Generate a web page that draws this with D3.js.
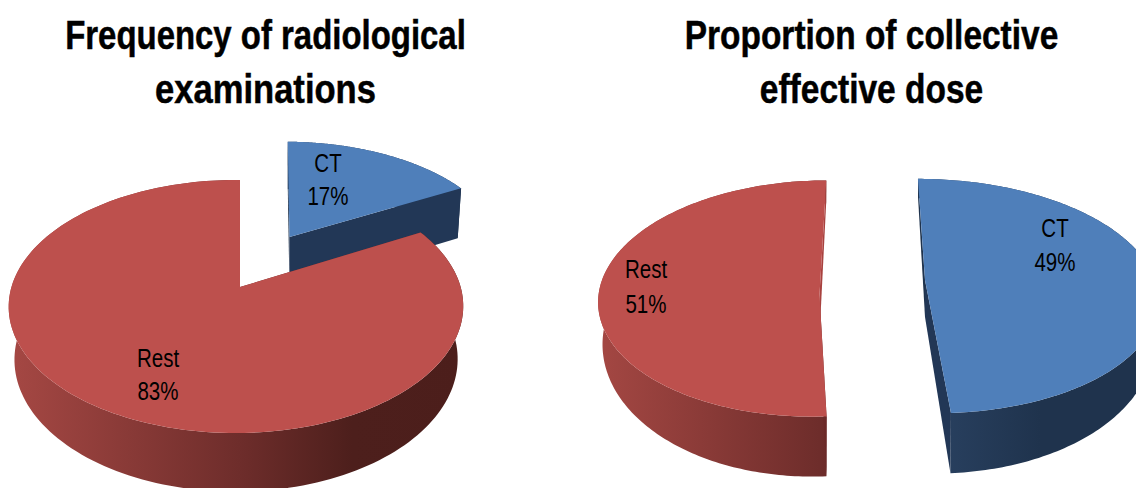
<!DOCTYPE html>
<html>
<head>
<meta charset="utf-8">
<script src="https://cdn.jsdelivr.net/npm/d3@7/dist/d3.min.js"></script>
<style>
html,body{margin:0;padding:0;background:#fff;overflow:hidden}
svg{display:block}
text{font-family:"Liberation Sans",Arial,sans-serif;fill:#000}
</style>
</head>
<body>
<svg id="chart" width="1136" height="488"></svg>
<script>
// Chart values
const categories = ["CT", "Rest"];
const frequencyValues = [17, 83];
const doseValues = [49, 51];
const frequencyTitle = ["Frequency of radiological", "examinations"];
const doseTitle = ["Proportion of collective", "effective dose"];

// Slice colours
const topColors = {CT: "#4f7fba", Rest: "#bd504d"};
const wallStops = {
  CT: ["#3a5a85", "#2a4262", "#1f334d", "#1f334d"],
  Rest: ["#a44743", "#6e2d2b", "#4d1f1c", "#4c1e1b"]
};
const radialColors = {
  CT: ["#1f334d", "#223756"],
  Rest: ["#6b2928", "#a8423f"]
};

// Perspective set-up of each exploded slice. ax/ay: hub of the slice;
// rx/ry: disc radii; p/r: foreshortening along depth and width; sh: shear;
// kx/ky/d: how the lower face relates to the upper one.
const panels = [
  {
    values: frequencyValues,
    title: frequencyTitle,
    titleX: 265.5,
    titleSqueeze: [0.823, 0.864],
    geom: {
      CT: {ax: 289.5, ay: 237, rx: 214.5, ry: 110, p: 0.154, r: 0.0176, sh: -2, kx: 0.98, ky: 1.046, d: 52},
      Rest: {ax: 240, ay: 287, rx: 224.5, ry: 123.5, p: 0.154, r: 0.0176, sh: 0, kx: 0.975, ky: 1.046, d: 52}
    },
    labels: {CT: [328, 172, 205], Rest: [158, 367, 400]}
  },
  {
    values: doseValues,
    title: doseTitle,
    titleX: 871.5,
    titleSqueeze: [0.836, 0.837],
    geom: {
      CT: {ax: 925, ay: 280, rx: 230, ry: 115, p: 0.137, r: 0, sh: -8, kx: 0.98, ky: 1.175, d: 37},
      Rest: {ax: 819.5, ay: 295, rx: 221, ry: 118, p: 0.03, r: 0, sh: 7, kx: 0.98, ky: 1.156, d: 41}
    },
    labels: {CT: [1055, 237, 271], Rest: [646, 278, 313]}
  }
];

const svg = d3.select("#chart");
const defs = svg.append("defs");
const pie = d3.pie().sort(null).startAngle(0).endAngle(2 * Math.PI);
const line = d3.line();

// Upper-face position of a point at fraction f of the radius, at pie angle a
function upper(g, a, f) {
  const X = f * Math.sin(a), Y = f * Math.cos(a);
  const w = 1 + g.p * Y + g.r * X;
  return [g.ax + (g.rx * X + g.sh * Y) / w, g.ay - g.ry * Y / w];
}
// Same point on the lower face
function lower(g, a, f) {
  const [x, y] = upper(g, a, f);
  return [g.ax + g.kx * (x - g.ax), g.ay + g.ky * (y - g.ay) + g.d];
}
function rim(fn, g, a0, a1) {
  return d3.range(0, 181).map(i => fn(g, a0 + (a1 - a0) * i / 180, 1));
}

// Narrow a text element to a fraction of its natural width
function condensed(sel, factor) {
  const len = sel.node().getComputedTextLength();
  sel.attr("textLength", len * factor).attr("lengthAdjust", "spacingAndGlyphs");
}

panels.forEach((panel, pi) => {
  const panelG = svg.append("g");

  pie(panel.values).forEach((arc, si) => {
    const name = categories[si];
    const g = panel.geom[name];
    const slice = panelG.append("g");
    const a0 = arc.startAngle, a1 = arc.endAngle;

    // curved wall, shaded from left to right
    const id = `wall-${pi}-${si}`;
    const grad = defs.append("linearGradient").attr("id", id)
      .attr("gradientUnits", "userSpaceOnUse")
      .attr("x1", g.ax - g.rx).attr("x2", g.ax + g.rx).attr("y1", 0).attr("y2", 0);
    [0, 0.5, 0.75, 1].forEach((o, k) => {
      grad.append("stop").attr("offset", o).attr("stop-color", wallStops[name][k]);
    });
    const wall = rim(upper, g, a0, a1).concat(rim(lower, g, a0, a1).reverse());
    slice.append("path").attr("d", line(wall) + "Z").attr("fill", `url(#${id})`);

    // cut faces
    [a0, a1].forEach((a, fi) => {
      const quad = [upper(g, a, 0), upper(g, a, 1), lower(g, a, 1), lower(g, a, 0)];
      slice.append("path").attr("d", line(quad) + "Z").attr("fill", radialColors[name][fi]);
    });

    // upper face
    const face = [upper(g, 0, 0)].concat(rim(upper, g, a0, a1));
    slice.append("path").attr("d", line(face) + "Z").attr("fill", topColors[name]);
  });

  // slice labels
  pie(panel.values).forEach((arc, si) => {
    const name = categories[si];
    const [x, y1, y2] = panel.labels[name];
    [[name, y1], [`${arc.value}%`, y2]].forEach(([str, y]) => {
      condensed(panelG.append("text")
        .attr("x", x).attr("y", y)
        .attr("text-anchor", "middle")
        .attr("font-size", 25)
        .text(str), 0.82);
    });
  });

  // heading
  panel.title.forEach((str, i) => {
    condensed(panelG.append("text")
      .attr("x", panel.titleX).attr("y", 49 + i * 54)
      .attr("text-anchor", "middle")
      .attr("font-size", 40)
      .attr("font-weight", "bold")
      .attr("stroke", "#000")
      .attr("stroke-width", 0.5)
      .text(str), panel.titleSqueeze[i]);
  });
});
</script>
</body>
</html>
